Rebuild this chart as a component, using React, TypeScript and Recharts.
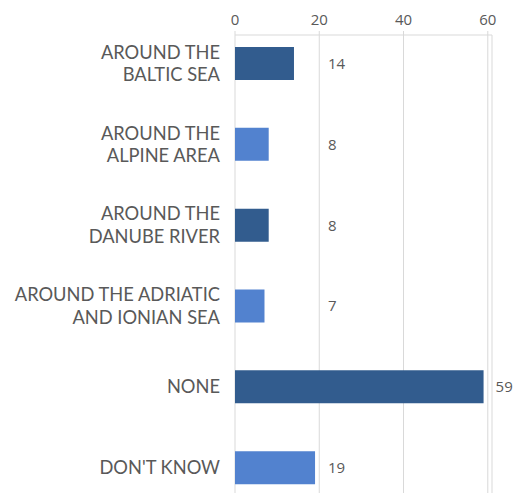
import { Bar, BarChart, CartesianGrid, Cell, LabelList, XAxis, YAxis } from "recharts";

const CATEGORIES = [
  "AROUND THE\nBALTIC SEA",
  "AROUND THE\nALPINE AREA",
  "AROUND THE\nDANUBE RIVER",
  "AROUND THE ADRIATIC\nAND IONIAN SEA",
  "NONE",
  "DON'T KNOW",
];
const VALUES = [14, 8, 8, 7, 59, 19];
const X_TICKS = [0, 20, 40, 60];

const DARK = "#325c8e";
const LIGHT = "#5282cf";
const TEXT = "#595959";
const GRID = "#d9d9d9";
const FONT = "'Open Sans', sans-serif";
const LABEL_FONT = "Lato, sans-serif";

const data = CATEGORIES.map((name, i) => ({ name, value: VALUES[i] }));

function CategoryTick({ x, y, payload }: any) {
  const lines = String(payload.value).split("\n");
  const lh = 22.5;
  const start = y - ((lines.length - 1) * lh) / 2;
  return (
    <g>
      {lines.map((l, i) => (
        <text
          key={i}
          x={x}
          y={start + i * lh}
          dy="0.36em"
          textAnchor="end"
          fill={TEXT}
          fontSize={18.3}
          fontFamily={LABEL_FONT}
        >
          {l}
        </text>
      ))}
    </g>
  );
}

// small values share a column of labels, larger ones sit just past the bar
function ValueLabel({ x, y, width, height, value }: any) {
  const lx = Math.max(x + width + 12, x + 93);
  return (
    <text x={lx} y={y + height / 2} dy="0.36em" fill={TEXT} fontSize={15} fontFamily={FONT}>
      {value}
    </text>
  );
}

export default function App() {
  return (
    <div style={{ position: "absolute", left: 0, top: 0, width: 514, height: 493, background: "#fff" }}>
      <BarChart
        width={514}
        height={493}
        data={data}
        layout="vertical"
        margin={{ top: 0, right: 22, bottom: 0, left: 0 }}
      >
        <CartesianGrid stroke={GRID} vertical horizontal={false} />
        <XAxis
          type="number"
          orientation="top"
          domain={[0, 61]}
          ticks={X_TICKS}
          height={35}
          tickLine={{ stroke: GRID }}
          tickSize={4}
          axisLine={{ stroke: GRID }}
          tickMargin={6}
          tick={{ fill: TEXT, fontSize: 15, fontFamily: FONT }}
        />
        <YAxis
          type="category"
          dataKey="name"
          width={235}
          axisLine={false}
          tickLine={false}
          padding={{ top: -12, bottom: -15 }}
          tick={<CategoryTick />}
          tickMargin={9}
          interval={0}
        />
        <Bar dataKey="value" barSize={33} isAnimationActive={false}>
          {data.map((_, i) => (
            <Cell key={i} fill={i % 2 === 0 ? DARK : LIGHT} />
          ))}
          <LabelList dataKey="value" content={<ValueLabel />} />
        </Bar>
      </BarChart>
    </div>
  );
}
